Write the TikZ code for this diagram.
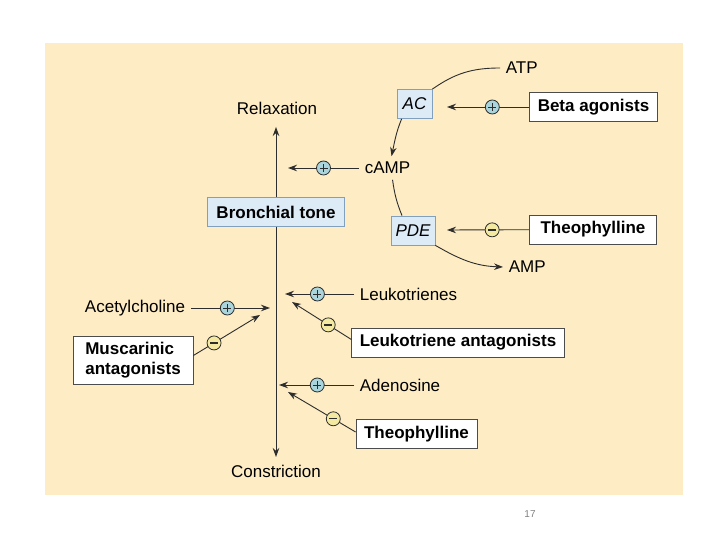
\documentclass[tikz,border=0pt]{standalone}
\usepackage{fontspec}
\setmainfont{Liberation Sans}
\usetikzlibrary{arrows.meta, positioning}

\definecolor{bgcream}{RGB}{253,236,196}
\definecolor{enzblue}{RGB}{221,235,247}
\definecolor{enzedge}{RGB}{128,160,190}
\definecolor{plusfill}{RGB}{170,213,220}
\definecolor{minusfill}{RGB}{244,233,160}
\definecolor{linegray}{RGB}{45,45,45}

\tikzset{
    arr/.style={draw=linegray, line width=0.9pt, arrows={-Stealth[length=9pt, width=6.5pt]}},
    link/.style={draw=linegray, line width=0.9pt},
    drug/.style={draw=black!70, fill=white, font=\bfseries, line width=0.8pt, minimum height=29pt, inner xsep=8pt},
    enzyme/.style={draw=enzedge, fill=enzblue, line width=0.8pt, minimum height=29pt, inner xsep=4pt},
    sign/.style={circle, draw=linegray, line width=0.8pt, minimum size=14pt, inner sep=0pt},
    plus/.style={sign, fill=plusfill, path picture={
        \draw[linegray, line width=0.9pt, arrows=-] (path picture bounding box.center) +(-4pt,0) -- +(4pt,0)
            (path picture bounding box.center) +(0,-4pt) -- +(0,4pt);}},
    minus/.style={sign, fill=minusfill, path picture={
        \draw[linegray, line width=1.4pt, arrows=-] (path picture bounding box.center) +(-4pt,0) -- +(4pt,0);}}
}

\begin{document}
\fontsize{17}{20}\selectfont
\begin{tikzpicture}[x=1pt, y=1pt]
    \useasboundingbox (0,0) rectangle (720,540);
    \fill[bgcream] (45,45) rectangle (683,497);

    % Nodes
    \node (relax) at (277,432) {Relaxation};
    \node[enzyme, font=\bfseries, inner xsep=9pt] (bronch) at (276,328) {Bronchial tone};
    \node (constr) at (276,69) {Constriction};
    \coordinate (top tip) at (276,413);
    \coordinate (bottom tip) at (276,83);

    \node[enzyme, minimum width=35pt, font=\itshape] (ac) at (414.5,436) {AC};
    \node[anchor=west] (atp) at (500,472) {ATP};
    \node[drug, minimum width=127pt] (beta) at (593.5,433) {Beta agonists};
    \node[anchor=west] (camp) at (359,372) {cAMP};
    \node[enzyme, minimum width=44pt, font=\itshape] (pde) at (413,309.5) {PDE};
    \node[drug, minimum width=127pt] (theo one) at (593,310.5) {Theophylline};
    \node[anchor=west] (amp) at (503,273) {AMP};

    \node[anchor=west] (leuko) at (354,246) {Leukotrienes};
    \node[anchor=east] (ach) at (191,232) {Acetylcholine};
    \node[drug, align=left, minimum width=120pt, minimum height=45pt] (musc) at (133,179.5) {Muscarinic\\antagonists};
    \node[drug, minimum width=210pt] (lt ant) at (458,197.5) {Leukotriene antagonists};
    \node[anchor=west] (adeno) at (354,155) {Adenosine};
    \node[drug, minimum width=121pt] (theo two) at (416.5,106) {Theophylline};

    \coordinate (ac in) at (447,433);
    \coordinate (pde in) at (447,310);
    \coordinate (camp tip) at (288,372);
    \coordinate (leuko tip) at (285,246);
    \coordinate (ach tip) at (270,232);
    \coordinate (musc tip) at (260,225);
    \coordinate (lt ant tip) at (292,238);
    \coordinate (adeno tip) at (279,155);
    \coordinate (theo two tip) at (288,148);

    \node[text=gray, font=\fontsize{10}{12}\selectfont] (page) at (530,26) {17};

    % Connections
    \draw [arr] (bronch) -- (top tip);
    \draw [arr] (bronch) -- (bottom tip);

    \draw [link] (atp.west) to[out=180, in=35] (ac.north east);
    \draw [arr] ([xshift=5pt]ac.south west) to[out=-112, in=78] ([xshift=4pt]camp.north);
    \draw [link] ([xshift=5pt]camp.south) to[out=-82, in=112] ([xshift=-11pt]pde.north);
    \draw [arr] (pde.south east) to[out=-30, in=178] (amp.west);

    \draw [arr] (beta) -- (ac in) node[plus, pos=0.45] (beta sign) {};
    \draw [arr] (theo one) -- (pde in) node[minus, pos=0.45] (theo one sign) {};
    \draw [arr] (camp.west) -- (camp tip) node[plus, pos=0.5] (camp sign) {};

    \draw [arr] (leuko.west) -- (leuko tip) node[plus, pos=0.53] (leuko sign) {};
    \draw [arr] (ach.east) -- (ach tip) node[plus, pos=0.46] (ach sign) {};
    \draw [arr] ([yshift=5pt]musc.east) -- (musc tip) node[minus, pos=0.31] (musc sign) {};
    \draw [arr] ([yshift=3pt]lt ant.west) -- (lt ant tip) node[minus, pos=0.39] (lt ant sign) {};
    \draw [arr] (adeno.west) -- (adeno tip) node[plus, pos=0.49] (adeno sign) {};
    \draw [arr] ([yshift=2pt]theo two.west) -- (theo two tip) node[minus, pos=0.33] (theo two sign) {};
\end{tikzpicture}
\end{document}
